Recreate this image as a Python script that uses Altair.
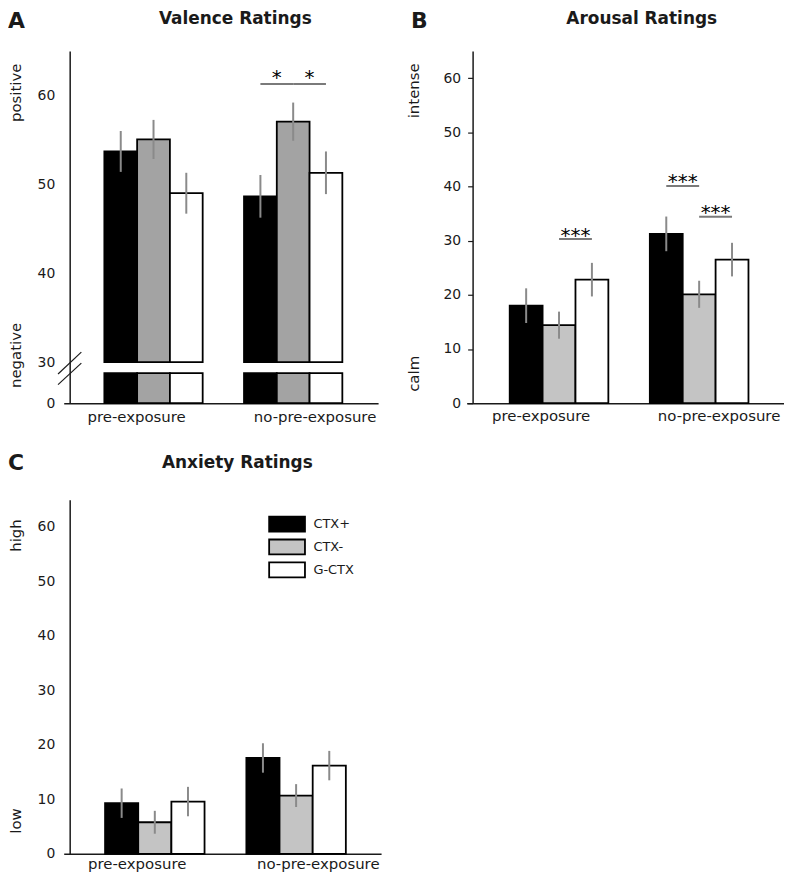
import altair as alt
import pandas as pd

FONT = "DejaVu Sans"
INK = "#1a1a1a"

groups = ["pre-exposure", "no-pre-exposure"]
series = ["CTX+", "CTX-", "G-CTX"]

# ---- A: Valence ----
valence_pre = [53.7, 55.05, 49.0]
valence_nopre = [48.65, 57.05, 51.3]
valence_err_pre = [2.3, 2.2, 2.3]
valence_err_nopre = [2.4, 2.15, 2.4]
valence_ticks = [0, 30, 40, 50, 60]
valence_sig_group = ["no-pre-exposure", "no-pre-exposure"]
valence_sig_from = ["CTX+", "CTX-"]
valence_sig_to = ["CTX-", "G-CTX"]
valence_sig_level = [61.3, 61.3]
valence_sig_label = ["*", "*"]

# ---- B: Arousal ----
arousal_pre = [18.0, 14.4, 22.8]
arousal_nopre = [31.25, 20.1, 26.5]
arousal_err_pre = [3.2, 2.5, 3.1]
arousal_err_nopre = [3.2, 2.5, 3.1]
arousal_sig_group = ["pre-exposure", "no-pre-exposure", "no-pre-exposure"]
arousal_sig_from = ["CTX-", "CTX+", "CTX-"]
arousal_sig_to = ["G-CTX", "CTX-", "G-CTX"]
arousal_sig_level = [30.3, 40.1, 34.4]
arousal_sig_label = ["***", "***", "***"]

# ---- C: Anxiety ----
anxiety_pre = [9.3, 5.8, 9.6]
anxiety_nopre = [17.6, 10.7, 16.2]
anxiety_err_pre = [2.7, 2.1, 2.7]
anxiety_err_nopre = [2.7, 2.1, 2.7]

ticks_0_60 = [0, 10, 20, 30, 40, 50, 60]


def bar_table(pre, nopre, epre, enopre):
    rows = []
    for g, vals, errs in ((groups[0], pre, epre), (groups[1], nopre, enopre)):
        for s, v, e in zip(series, vals, errs):
            rows.append({"group": g, "series": s, "value": v, "err": e})
    return pd.DataFrame(rows)


def sig_table(gs, fr, to, lv, lb):
    rows = []
    for i in range(len(gs)):
        rows.append({"id": i, "group": gs[i], "series": fr[i], "level": lv[i], "label": lb[i], "first": 1})
        rows.append({"id": i, "group": gs[i], "series": to[i], "level": lv[i], "label": lb[i], "first": 0})
    return pd.DataFrame(rows)


def text_layer(txt, x, y, **kw):
    return alt.Chart(alt.Data(values=[{"t": txt}])).mark_text(font=FONT, color=INK, **kw).encode(
        x=alt.value(x), y=alt.value(y), text="t:N")


def rule_layer(x, y, x2, y2):
    return alt.Chart(alt.Data(values=[{"r": 1}])).mark_rule(color=INK, strokeWidth=1.2).encode(
        x=alt.value(x), y=alt.value(y), x2=alt.value(x2), y2=alt.value(y2))


def panel(df, yscale, yaxis, fills, xscale_kw, label_offsets, label_pad,
          sig=None, legend=None, star_dy=-3, star_dx=16.5, break_at=None):
    xaxis = alt.Axis(ticks=False, labelAngle=0, labelFontSize=15, labelPadding=label_pad,
                     labelOffset={"condition": {"test": "datum.value === '%s'" % groups[0],
                                                "value": label_offsets[0]},
                                  "value": label_offsets[1]},
                     labelColor=INK, domainColor=INK, domainWidth=1.5, title=None)
    x = alt.X("group:N", sort=groups, title=None,
              scale=alt.Scale(domain=groups, **xscale_kw), axis=xaxis)
    xo = alt.XOffset("series:N", sort=series,
                     scale=alt.Scale(domain=series, paddingInner=0, paddingOuter=0))
    fill = alt.Fill("series:N", sort=series, scale=alt.Scale(domain=series, range=fills), legend=legend)

    base = alt.Chart(df)
    layers = []
    if break_at is None:
        layers.append(base.mark_bar(stroke="black", strokeWidth=1.8).encode(
            x=x, xOffset=xo, fill=fill,
            y=alt.Y("value:Q", scale=yscale, axis=yaxis, title=None)))
    else:
        low_top, up_bottom = break_at
        layers.append(base.mark_bar(stroke="black", strokeWidth=1.8).encode(
            x=x, xOffset=xo, fill=fill,
            y=alt.Y("value:Q", scale=yscale, axis=yaxis, title=None),
            y2=alt.datum(up_bottom)))
        layers.append(base.mark_bar(stroke="black", strokeWidth=1.8).encode(
            x=x, xOffset=xo, fill=fill,
            y=alt.datum(0), y2=alt.datum(low_top)))
    layers.append(base.transform_calculate(
        lo="datum.value - datum.err", hi="datum.value + datum.err"
    ).mark_rule(color="#8a8a8a", strokeWidth=2).encode(
        x=x, xOffset=xo,
        y=alt.Y("lo:Q", scale=yscale, axis=yaxis, title=None), y2="hi:Q"))
    if sig is not None:
        sbase = alt.Chart(sig)
        layers.append(sbase.mark_line(color="#7a7a7a", strokeWidth=2).encode(
            x=x, xOffset=xo, detail="id:N",
            y=alt.Y("level:Q", scale=yscale, axis=yaxis, title=None)))
        layers.append(sbase.transform_filter("datum.first == 1").mark_text(
            font=FONT, fontSize=20, color="black", dx=star_dx, dy=star_dy, baseline="middle").encode(
            x=x, xOffset=xo, text="label:N",
            y=alt.Y("level:Q", scale=yscale, axis=yaxis, title=None)))
    return layers


# ---------------- Panel A ----------------
A_W, A_H = 316, 354
dfA = bar_table(valence_pre, valence_nopre, valence_err_pre, valence_err_nopre)
sigA = sig_table(valence_sig_group, valence_sig_from, valence_sig_to, valence_sig_level, valence_sig_label)
yscaleA = alt.Scale(domain=[0, 29, 30, 65], range=[A_H, 323.7, 312.7, 0], nice=False, zero=False)
yaxisA = alt.Axis(values=valence_ticks, ticks=False, labelPadding=15, labelFontSize=14, offset=-6,
                  domainColor=INK, domainWidth=1.5, labelColor=INK, title=None)
layersA = panel(dfA, yscaleA, yaxisA, ["black", "#a3a3a3", "white"],
                dict(paddingInner=0.296, paddingOuter=0.2735, align=0.532),
                (-17, 22), 6, sig=sigA, legend=None, star_dy=-6,
                break_at=(29, 30))
layersA += [
    rule_layer(-5.7, 324.7, 17.7, 302.7),
    rule_layer(-5.7, 335.3, 17.7, 313.7),
    text_layer("A", -56, -40, fontSize=22, fontWeight="bold", align="left", baseline="top"),
    text_layer("Valence Ratings", 172.5, -40, fontSize=17, fontWeight="bold", align="center", baseline="top"),
    text_layer("positive", -48, 42, fontSize=15, angle=270, align="center", baseline="middle"),
    text_layer("negative", -48, 306, fontSize=15, angle=270, align="center", baseline="middle"),
]
chartA = alt.layer(*layersA).properties(width=A_W, height=A_H)

# ---------------- Panel B ----------------
B_W, B_H = 319, 354
dfB = bar_table(arousal_pre, arousal_nopre, arousal_err_pre, arousal_err_nopre)
sigB = sig_table(arousal_sig_group, arousal_sig_from, arousal_sig_to, arousal_sig_level, arousal_sig_label)
yscaleB = alt.Scale(domain=[0, 65], nice=False, zero=True)
yaxisB = alt.Axis(values=ticks_0_60, ticks=True, tickSize=5, tickWidth=1.2, tickColor=INK,
                  labelPadding=7, labelFontSize=14, offset=-6,
                  domainColor=INK, domainWidth=1.5, labelColor=INK, title=None)
layersB = panel(dfB, yscaleB, yaxisB, ["black", "#c4c4c4", "white"],
                dict(paddingInner=0.296, paddingOuter=0.2805, align=0.548),
                (-18, 20), 5, sig=sigB, legend=None, star_dy=-3.5)
layersB += [
    text_layer("B", -56, -40, fontSize=22, fontWeight="bold", align="left", baseline="top"),
    text_layer("Arousal Ratings", 176, -40, fontSize=17, fontWeight="bold", align="center", baseline="top"),
    text_layer("intense", -53, 40, fontSize=15, angle=270, align="center", baseline="middle"),
    text_layer("calm", -53, 324.5, fontSize=15, angle=270, align="center", baseline="middle"),
]
chartB = alt.layer(*layersB).properties(width=B_W, height=B_H)

# ---------------- Panel C ----------------
C_W, C_H = 319, 356
dfC = bar_table(anxiety_pre, anxiety_nopre, anxiety_err_pre, anxiety_err_nopre)
yscaleC = alt.Scale(domain=[0, 65], nice=False, zero=True)
yaxisC = alt.Axis(values=ticks_0_60, ticks=False, labelPadding=15, labelFontSize=14, offset=-6,
                  domainColor=INK, domainWidth=1.5, labelColor=INK, title=None)
legendC = alt.Legend(orient="none", legendX=218, legendY=18, title=None, padding=0,
                     symbolType="M-4.5,-1.875H4.5V1.875H-4.5Z", symbolSize=64,
                     symbolStrokeColor="black", symbolStrokeWidth=1.8,
                     labelFont=FONT, labelFontSize=13, labelColor=INK, labelOffset=20,
                     rowPadding=0)
layersC = panel(dfC, yscaleC, yaxisC, ["black", "#c4c4c4", "white"],
                dict(paddingInner=0.296, paddingOuter=0.271, align=0.54),
                (-17.7, 22.3), 3, sig=None, legend=legendC)
layersC += [
    text_layer("C", -56, -47, fontSize=22, fontWeight="bold", align="left", baseline="top"),
    text_layer("Anxiety Ratings", 174.5, -45, fontSize=17, fontWeight="bold", align="center", baseline="top"),
    text_layer("high", -48, 36, fontSize=15, angle=270, align="center", baseline="middle"),
    text_layer("low", -48, 323, fontSize=15, angle=270, align="center", baseline="middle"),
]
chartC = alt.layer(*layersC).properties(width=C_W, height=C_H)

chart = alt.concat(
    chartA, chartB, chartC, columns=2, bounds="flush",
    spacing={"row": 97, "column": 86}
).resolve_scale(
    fill="independent", x="independent", y="independent", xOffset="independent"
).properties(padding=0).configure_view(stroke=None).configure_axis(
    grid=False, labelFont=FONT, domainColor=INK, labelColor=INK
)

chart.save("out.html", embed_options={"renderer": "svg", "actions": False})
